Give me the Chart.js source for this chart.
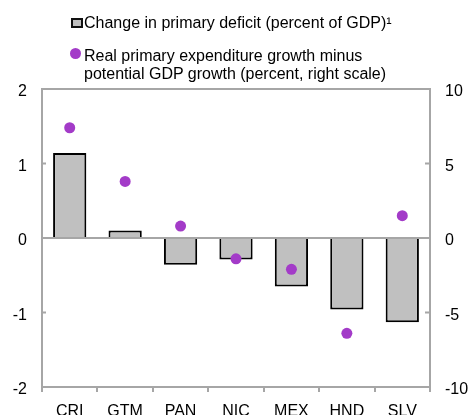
<!DOCTYPE html>
<html>
<head>
<meta charset="utf-8">
<script src="https://cdn.jsdelivr.net/npm/chart.js@4/dist/chart.umd.min.js"></script>
<style>
  body { margin: 0; background: #fff; }
  #wrap { position: relative; width: 470px; height: 415px; font-family: "Liberation Sans", Arial, sans-serif; color: #000; }
  #chart { position: absolute; left: 0; top: 0; }
  .lg { position: absolute; font-size: 16px; line-height: 18px; white-space: nowrap; }
  .box { position: absolute; left: 71px; top: 18px; width: 8px; height: 6px; background: #c0c0c0; border: 2px solid #111; }
  .dot { position: absolute; left: 70px; top: 48px; width: 11px; height: 11px; border-radius: 50%; background: #a33bc8; }
</style>
</head>
<body>
<div id="wrap">
  <canvas id="chart" width="470" height="415"></canvas>
  <div class="box"></div>
  <div class="lg" style="left:84px; top:14px;">Change in primary deficit (percent of GDP)¹</div>
  <div class="dot"></div>
  <div class="lg" style="left:84px; top:47px;">Real primary expenditure growth minus<br>potential GDP growth (percent, right scale)</div>
</div>
<script>
// data
const categories = ['CRI', 'GTM', 'PAN', 'NIC', 'MEX', 'HND', 'SLV'];
const deficitChange = [1.14, 0.10, -0.36, -0.29, -0.65, -0.96, -1.13];
const spendingGap = [7.4, 3.8, 0.8, -1.4, -2.1, -6.4, 1.5];
const leftRange = [-2, 2];
const rightRange = [-10, 10];

const axisGray = '#a6a6a6';
const tickFont = { family: 'Liberation Sans', size: 16 };

// frame, zero line and inward y ticks
const framePlugin = {
    id: 'frame',
    afterDatasetsDraw(chart) {
        const { ctx, chartArea: a, scales } = chart;
        ctx.save();
        ctx.strokeStyle = axisGray;
        ctx.lineWidth = 2;
        ctx.strokeRect(a.left, a.top, a.right - a.left, a.bottom - a.top);
        const y0 = scales.y.getPixelForValue(0);
        ctx.beginPath();
        ctx.moveTo(a.left, y0);
        ctx.lineTo(a.right, y0);
        ctx.stroke();
        ctx.beginPath();
        scales.y.ticks.forEach(t => {
            const py = scales.y.getPixelForValue(t.value);
            ctx.moveTo(a.left, py);
            ctx.lineTo(a.left + 4, py);
        });
        scales.y1.ticks.forEach(t => {
            const py = scales.y1.getPixelForValue(t.value);
            ctx.moveTo(a.right, py);
            ctx.lineTo(a.right - 5, py);
        });
        ctx.stroke();
        ctx.restore();
    }
};

new Chart(document.getElementById('chart'), {
    type: 'bar',
    data: {
        labels: categories,
        datasets: [
            {
                type: 'line',
                label: 'Real primary expenditure growth minus potential GDP growth',
                data: spendingGap,
                yAxisID: 'y1',
                showLine: false,
                pointRadius: 5.5,
                pointHoverRadius: 5.5,
                pointBackgroundColor: '#a33bc8',
                pointBorderWidth: 0,
                order: 0
            },
            {
                label: 'Change in primary deficit',
                data: deficitChange,
                yAxisID: 'y',
                backgroundColor: '#c0c0c0',
                borderColor: '#000',
                borderWidth: 2,
                categoryPercentage: 1,
                barPercentage: 0.6,
                order: 1
            }
        ]
    },
    options: {
        responsive: false,
        animation: false,
        layout: { padding: { top: 89 } },
        plugins: { legend: { display: false }, tooltip: { enabled: false } },
        scales: {
            x: {
                afterFit: s => { s.height = 28; },
                border: { display: false },
                grid: { drawOnChartArea: false, color: axisGray, lineWidth: 2, tickLength: 5 },
                ticks: { color: '#000', font: tickFont, padding: 10 }
            },
            y: {
                position: 'left',
                min: leftRange[0], max: leftRange[1],
                afterFit: s => { s.width = 42; },
                border: { display: false },
                grid: { display: false, drawTicks: false },
                ticks: { stepSize: 1, color: '#000', font: tickFont, padding: 15, labelOffset: 3 }
            },
            y1: {
                position: 'right',
                min: rightRange[0], max: rightRange[1],
                afterFit: s => { s.width = 40; },
                border: { display: false },
                grid: { display: false, drawTicks: false },
                ticks: { stepSize: 5, color: '#000', font: tickFont, padding: 15, labelOffset: 3 }
            }
        }
    },
    plugins: [framePlugin]
});
</script>
</body>
</html>
